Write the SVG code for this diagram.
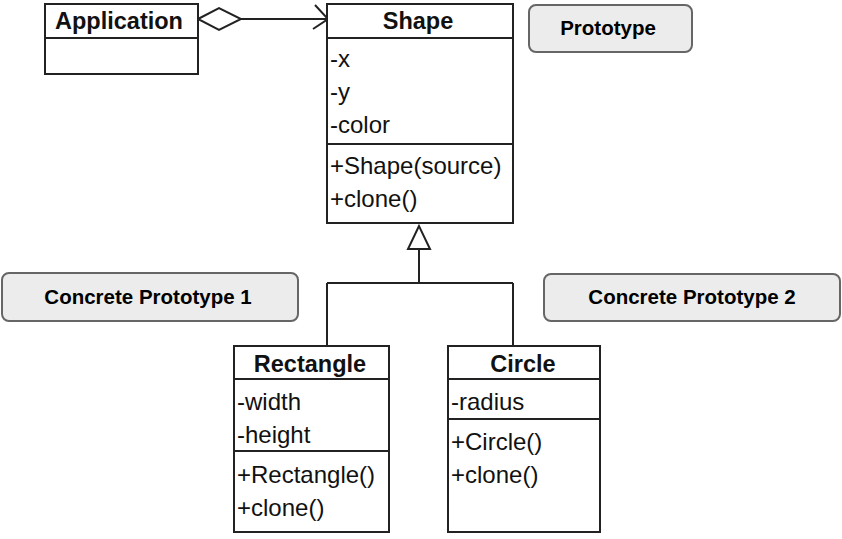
<svg xmlns="http://www.w3.org/2000/svg" width="842" height="539" viewBox="0 0 842 539">
<style>
.box{fill:#fff;stroke:#222;stroke-width:2}
.ln{stroke:#222;stroke-width:2;fill:none}
.hd{font-family:"Liberation Sans",Arial,sans-serif;font-size:23.5px;font-weight:bold;fill:#111;text-anchor:middle}
.tx{font-family:"Liberation Sans",Arial,sans-serif;font-size:24px;fill:#111}
.note{fill:#ececec;stroke:#666;stroke-width:2}
.nt{font-family:"Liberation Sans",Arial,sans-serif;font-size:20.5px;font-weight:bold;fill:#000;text-anchor:middle}
</style>
<rect width="842" height="539" fill="#fff"/>
<g id="connectors">
<path class="ln" d="M241,19 H328"/>
<polygon points="198,19 219,8 241,19 219,30" fill="#fff" stroke="#222" stroke-width="2"/>
<path class="ln" d="M315,5 L328,19 L313,29"/>
<path class="ln" d="M419,249 V283 M327,283 H513 M327,283 V346 M513,283 V346"/>
<polygon points="419,226 408,249 430,249" fill="#fff" stroke="#222" stroke-width="2"/>
</g>
<g id="application">
<rect class="box" x="45" y="4" width="153" height="70"/>
<path class="ln" d="M45,38 H198"/>
<text class="hd" x="119" y="29">Application</text>
</g>
<g id="shape">
<rect class="box" x="327" y="4" width="186" height="219"/>
<path class="ln" d="M327,38 H513 M327,144 H513"/>
<text class="hd" x="418" y="29">Shape</text>
<text class="tx" x="330" y="67">-x</text>
<text class="tx" x="330" y="100">-y</text>
<text class="tx" x="330" y="133">-color</text>
<text class="tx" x="330" y="174">+Shape(source)</text>
<text class="tx" x="330" y="207">+clone()</text>
</g>
<g id="rectangle">
<rect class="box" x="234" y="346" width="155" height="186"/>
<path class="ln" d="M234,379 H389 M234,451 H389"/>
<text class="hd" x="310" y="372">Rectangle</text>
<text class="tx" x="237" y="410">-width</text>
<text class="tx" x="237" y="443">-height</text>
<text class="tx" x="237" y="483">+Rectangle()</text>
<text class="tx" x="237" y="516">+clone()</text>
</g>
<g id="circle">
<rect class="box" x="448" y="346" width="152" height="186"/>
<path class="ln" d="M448,379 H600 M448,419 H600"/>
<text class="hd" x="523" y="372">Circle</text>
<text class="tx" x="451" y="410">-radius</text>
<text class="tx" x="451" y="450">+Circle()</text>
<text class="tx" x="451" y="483">+clone()</text>
</g>
<g id="note-prototype">
<rect class="note" x="529" y="5" width="163" height="47" rx="7"/>
<text class="nt" x="608" y="35">Prototype</text>
</g>
<g id="note-concrete1">
<rect class="note" x="2" y="273" width="296" height="48" rx="7"/>
<text class="nt" x="148" y="304">Concrete Prototype 1</text>
</g>
<g id="note-concrete2">
<rect class="note" x="544" y="274" width="296" height="47" rx="7"/>
<text class="nt" x="692" y="304">Concrete Prototype 2</text>
</g>
</svg>
